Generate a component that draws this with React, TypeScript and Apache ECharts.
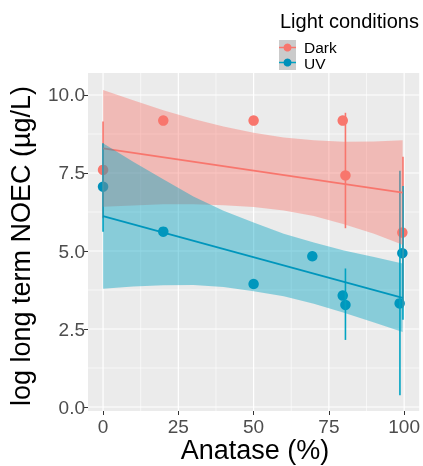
import React, { useEffect, useRef } from "react";
import * as echarts from "echarts";

// Axis ticks
const xTicks = [0, 25, 50, 75, 100];
const xMinor = [12.5, 37.5, 62.5, 87.5];
const yTicks = [0, 2.5, 5, 7.5, 10];
const yMinor = [1.25, 3.75, 6.25, 8.75];

// Dark group points
const darkX = [0, 20, 50, 79.6, 80.5, 99.4];
const darkY = [7.6, 9.18, 9.18, 9.18, 7.42, 5.59];
// Dark error bars
const darkBarX = [0, 80.5, 99.6];
const darkBarLow = [6.05, 5.73, 3.2];
const darkBarHigh = [9.15, 9.43, 8.02];

// UV group points
const uvX = [0, 20, 50, 69.5, 79.6, 80.5, 98.5, 99.4];
const uvY = [7.06, 5.62, 3.94, 4.83, 3.57, 3.27, 3.32, 4.93];
// UV error bars
const uvBarX = [0, 80.5, 98.6, 99.6];
const uvBarLow = [5.62, 2.15, 0.38, 2.8];
const uvBarHigh = [8.45, 4.44, 7.57, 7.08];

// Regression confidence ribbons
const ribbonX = [0, 10, 20, 30, 40, 50, 60, 70, 80, 90, 99.5];
const darkUpper = [10.16, 9.83, 9.51, 9.23, 8.99, 8.79, 8.64, 8.55, 8.5, 8.51, 8.55];
const darkLower = [6.42, 6.46, 6.5, 6.5, 6.47, 6.41, 6.3, 6.12, 5.86, 5.55, 5.2];
const uvUpper = [8.45, 7.86, 7.3, 6.75, 6.29, 5.91, 5.55, 5.27, 5.02, 4.81, 4.6];
const uvLower = [3.79, 3.86, 3.9, 3.91, 3.85, 3.71, 3.55, 3.31, 3.02, 2.71, 2.4];

// Regression lines
const fitX = [0, 99.5];
const darkFitY = [8.29, 6.87];
const uvFitY = [6.12, 3.5];

const RED = "#F8766D";
const BLUE = "#00A3C2";
const BLUE_PT = "#0090BA";
const FONT = "'Liberation Sans', Arial, sans-serif";

function ribbonSeries(upper: number[], lower: number[], color: string, z: number) {
  return {
    type: "custom",
    z,
    silent: true,
    data: ribbonX.map((x, i) => [x, lower[i], upper[i]]),
    encode: { x: 0, y: [1, 2] },
    renderItem: (params: any, api: any) => {
      if (params.dataIndex !== 0) return null;
      const up = ribbonX.map((x, i) => api.coord([x, upper[i]]));
      const lo = ribbonX.map((x, i) => api.coord([x, lower[i]])).reverse();
      return {
        type: "polygon",
        shape: { points: [...up, ...lo] },
        style: { fill: color, opacity: 0.42 },
      };
    },
  };
}

function barSeries(xs: number[], lows: number[], highs: number[], color: string, z: number) {
  return {
    type: "custom",
    z,
    silent: true,
    data: xs.map((x, i) => [x, lows[i], highs[i]]),
    encode: { x: 0, y: [1, 2] },
    renderItem: (params: any, api: any) => {
      const p1 = api.coord([api.value(0), api.value(1)]);
      const p2 = api.coord([api.value(0), api.value(2)]);
      return {
        type: "line",
        shape: { x1: p1[0], y1: p1[1], x2: p2[0], y2: p2[1] },
        style: { stroke: color, lineWidth: 1.6, fill: null },
      };
    },
  };
}

// grid lines rows: [value, isVertical(1/0), isMajor(1/0)]
const gridRows = [
  ...yTicks.map((v) => [v, 0, 1]),
  ...yMinor.map((v) => [v, 0, 0]),
  ...xTicks.map((v) => [v, 1, 1]),
  ...xMinor.map((v) => [v, 1, 0]),
];

export default function App() {
  const ref = useRef<HTMLDivElement>(null);
  useEffect(() => {
    if (!ref.current) return;
    const chart = echarts.init(ref.current, undefined, { renderer: "svg" });
    chart.setOption({
      animation: false,
      textStyle: { fontFamily: FONT },
      grid: {
        left: 88,
        right: 1,
        top: 73,
        bottom: 55,
        show: true,
        backgroundColor: "#EBEBEB",
        borderWidth: 0,
      },
      xAxis: {
        type: "value",
        min: -5,
        max: 105,
        axisLine: { show: false, onZero: false },
        splitLine: { show: false },
        axisTick: { show: true, customValues: xTicks, length: 4, lineStyle: { color: "#333", width: 1 } },
        axisLabel: {
          customValues: xTicks,
          fontSize: 19,
          color: "#4D4D4D",
          margin: 6,
          fontFamily: FONT,
          formatter: (v: number) => String(v),
        },
      },
      yAxis: {
        type: "value",
        min: -0.128,
        max: 10.705,
        axisLine: { show: false, onZero: false },
        splitLine: { show: false },
        axisTick: { show: true, customValues: yTicks, length: 4, lineStyle: { color: "#333", width: 1 } },
        axisLabel: {
          customValues: yTicks,
          fontSize: 19,
          color: "#4D4D4D",
          margin: 3,
          fontFamily: FONT,
          formatter: (v: number) => v.toFixed(1),
        },
      },
      graphic: [
        {
          type: "text",
          x: 21,
          y: 246,
          rotation: Math.PI / 2,
          style: {
            text: "log long term NOEC (µg/L)",
            fontSize: 27,
            fontFamily: FONT,
            fill: "#000",
            textAlign: "center",
            textVerticalAlign: "middle",
          },
        },
        {
          type: "text",
          x: 255,
          y: 450,
          style: {
            text: "Anatase (%)",
            fontSize: 27,
            fontFamily: FONT,
            fill: "#000",
            textAlign: "center",
            textVerticalAlign: "middle",
          },
        },
        {
          type: "text",
          x: 280,
          y: 21,
          style: {
            text: "Light conditions",
            fontSize: 20,
            fontFamily: FONT,
            fill: "#000",
            textAlign: "left",
            textVerticalAlign: "middle",
          },
        },
        { type: "rect", shape: { x: 279, y: 40, width: 17, height: 15 }, style: { fill: "#CBCBCB" } },
        { type: "rect", shape: { x: 279, y: 55, width: 17, height: 15 }, style: { fill: "#CBCBCB" } },
        { type: "line", shape: { x1: 279, y1: 47.5, x2: 296, y2: 47.5 }, style: { stroke: RED, lineWidth: 1.5 } },
        { type: "circle", shape: { cx: 287.5, cy: 47.5, r: 4 }, style: { fill: RED } },
        { type: "line", shape: { x1: 279, y1: 62.5, x2: 296, y2: 62.5 }, style: { stroke: BLUE, lineWidth: 1.5 } },
        { type: "circle", shape: { cx: 287.5, cy: 62.5, r: 4 }, style: { fill: BLUE_PT } },
        {
          type: "text",
          x: 304,
          y: 47,
          style: { text: "Dark", fontSize: 15.5, fontFamily: FONT, fill: "#000", textVerticalAlign: "middle" },
        },
        {
          type: "text",
          x: 304,
          y: 63,
          style: { text: "UV", fontSize: 15.5, fontFamily: FONT, fill: "#000", textVerticalAlign: "middle" },
        },
      ],
      series: [
        {
          type: "custom",
          z: 0,
          silent: true,
          data: gridRows,
          encode: { x: 0, y: 0 },
          renderItem: (params: any, api: any) => {
            const cs = params.coordSys;
            const v = api.value(0);
            const vertical = api.value(1) === 1;
            const major = api.value(2) === 1;
            const lw = major ? 1.2 : 0.6;
            if (vertical) {
              const p = api.coord([v, 5]);
              return {
                type: "line",
                shape: { x1: p[0], y1: cs.y, x2: p[0], y2: cs.y + cs.height },
                style: { stroke: "#FFFFFF", lineWidth: lw },
              };
            }
            const p = api.coord([50, v]);
            return {
              type: "line",
              shape: { x1: cs.x, y1: p[1], x2: cs.x + cs.width, y2: p[1] },
              style: { stroke: "#FFFFFF", lineWidth: lw },
            };
          },
        },
        {
          type: "scatter",
          z: 2,
          symbolSize: 10.5,
          itemStyle: { color: RED, opacity: 1 },
          data: darkX.map((x, i) => [x, darkY[i]]),
        },
        {
          type: "scatter",
          z: 2,
          symbolSize: 10.5,
          itemStyle: { color: BLUE_PT, opacity: 1 },
          data: uvX.map((x, i) => [x, uvY[i]]),
        },
        barSeries(darkBarX, darkBarLow, darkBarHigh, RED, 3),
        barSeries(uvBarX, uvBarLow, uvBarHigh, BLUE, 3),
        ribbonSeries(darkUpper, darkLower, RED, 4),
        {
          type: "line",
          z: 5,
          symbol: "none",
          lineStyle: { color: RED, width: 1.6 },
          data: fitX.map((x, i) => [x, darkFitY[i]]),
        },
        ribbonSeries(uvUpper, uvLower, BLUE, 6),
        {
          type: "line",
          z: 7,
          symbol: "none",
          lineStyle: { color: "#0096BC", width: 1.8 },
          data: fitX.map((x, i) => [x, uvFitY[i]]),
        },
      ],
    });
    return () => chart.dispose();
  }, []);
  return (
    <div
      ref={ref}
      style={{ position: "fixed", left: 0, top: 0, width: 423, height: 466 }}
    />
  );
}
